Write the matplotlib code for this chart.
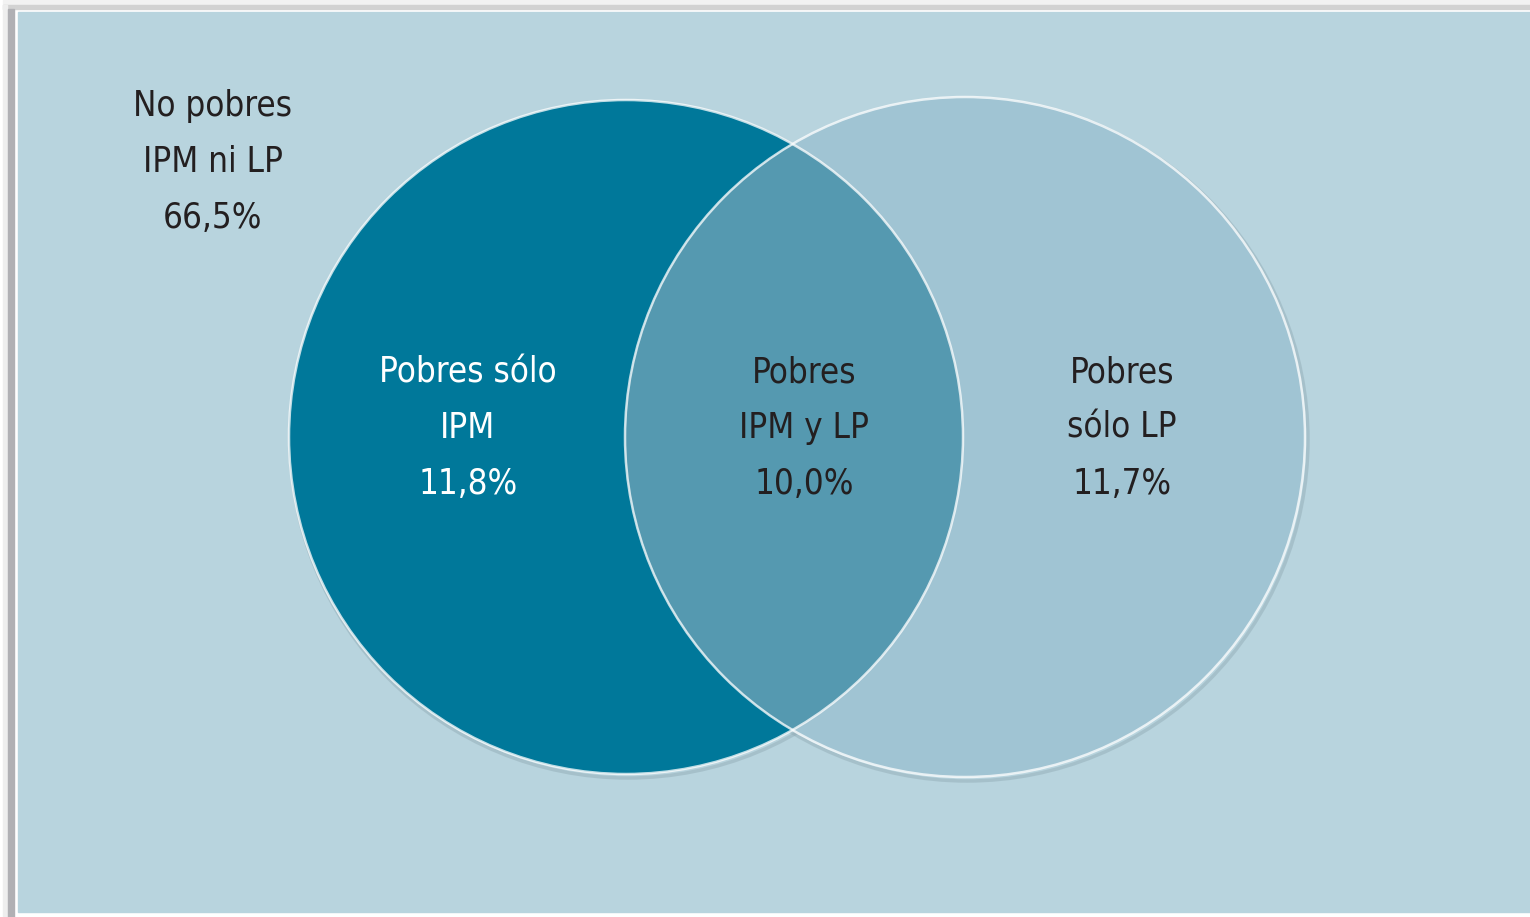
import matplotlib.pyplot as plt
from matplotlib.patches import Circle, Rectangle

# set labels and shares (%)
labels = ["Pobres sólo\nIPM", "Pobres\nIPM y LP", "Pobres\nsólo LP", "No pobres\nIPM ni LP"]
shares = ["11,8%", "10,0%", "11,7%", "66,5%"]

bg = "#b8d4de"
c_left = "#00789a"
c_mid = "#5599b0"
c_right = "#a0c4d3"

plt.rcParams['font.family'] = ['DejaVu Sans']
plt.rcParams['font.stretch'] = 'condensed'

fig = plt.figure(figsize=(15.3, 9.17), dpi=100)
ax = fig.add_axes([0, 0, 1, 1])
ax.set_xlim(0, 1530)
ax.set_ylim(917, 0)
ax.axis('off')

# frame
ax.add_patch(Rectangle((0, 0), 1530, 917, color='white', zorder=0))
ax.add_patch(Rectangle((3, 0), 1527, 5, color='#f2f2f2', zorder=0))
ax.add_patch(Rectangle((3, 5), 1527, 4, color='#d2d2d2', zorder=0))
ax.add_patch(Rectangle((3, 5), 4, 912, color='#eeeeee', zorder=0))
ax.add_patch(Rectangle((8, 9), 6, 908, color='#b0b0b4', zorder=0))
ax.add_patch(Rectangle((18, 12), 1512, 900, color=bg, zorder=1))

left = (626, 437, 337)
right = (965, 437, 340)

# soft shadows
for cx, cy, r in (left, right):
    ax.add_patch(Circle((cx + 2, cy + 3), r + 1, fc='none', ec='#8aa4ae', lw=2.5, alpha=0.4, zorder=2))

lc = Circle(left[:2], left[2], fc=c_left, ec='none', zorder=3)
ax.add_patch(lc)
rc = Circle(right[:2], right[2], fc=c_right, ec='none', zorder=4)
ax.add_patch(rc)
mid = Circle(right[:2], right[2], fc=c_mid, ec='none', zorder=5)
ax.add_patch(mid)
mid.set_clip_path(lc)

for cx, cy, r in (left, right):
    ax.add_patch(Circle((cx, cy), r, fc='none', ec='white', lw=1.8, alpha=0.75, zorder=6))

pos = [(468, 428), (804, 428), (1122, 428), (213, 162)]
cols = ['white', '#231f20', '#231f20', '#231f20']
for (x, y), lab, sh, col in zip(pos, labels, shares, cols):
    ax.text(x, y, lab + "\n" + sh, ha='center', va='center', color=col,
            fontsize=25, linespacing=1.8, zorder=7)

fig.savefig('out.png', dpi=100)
